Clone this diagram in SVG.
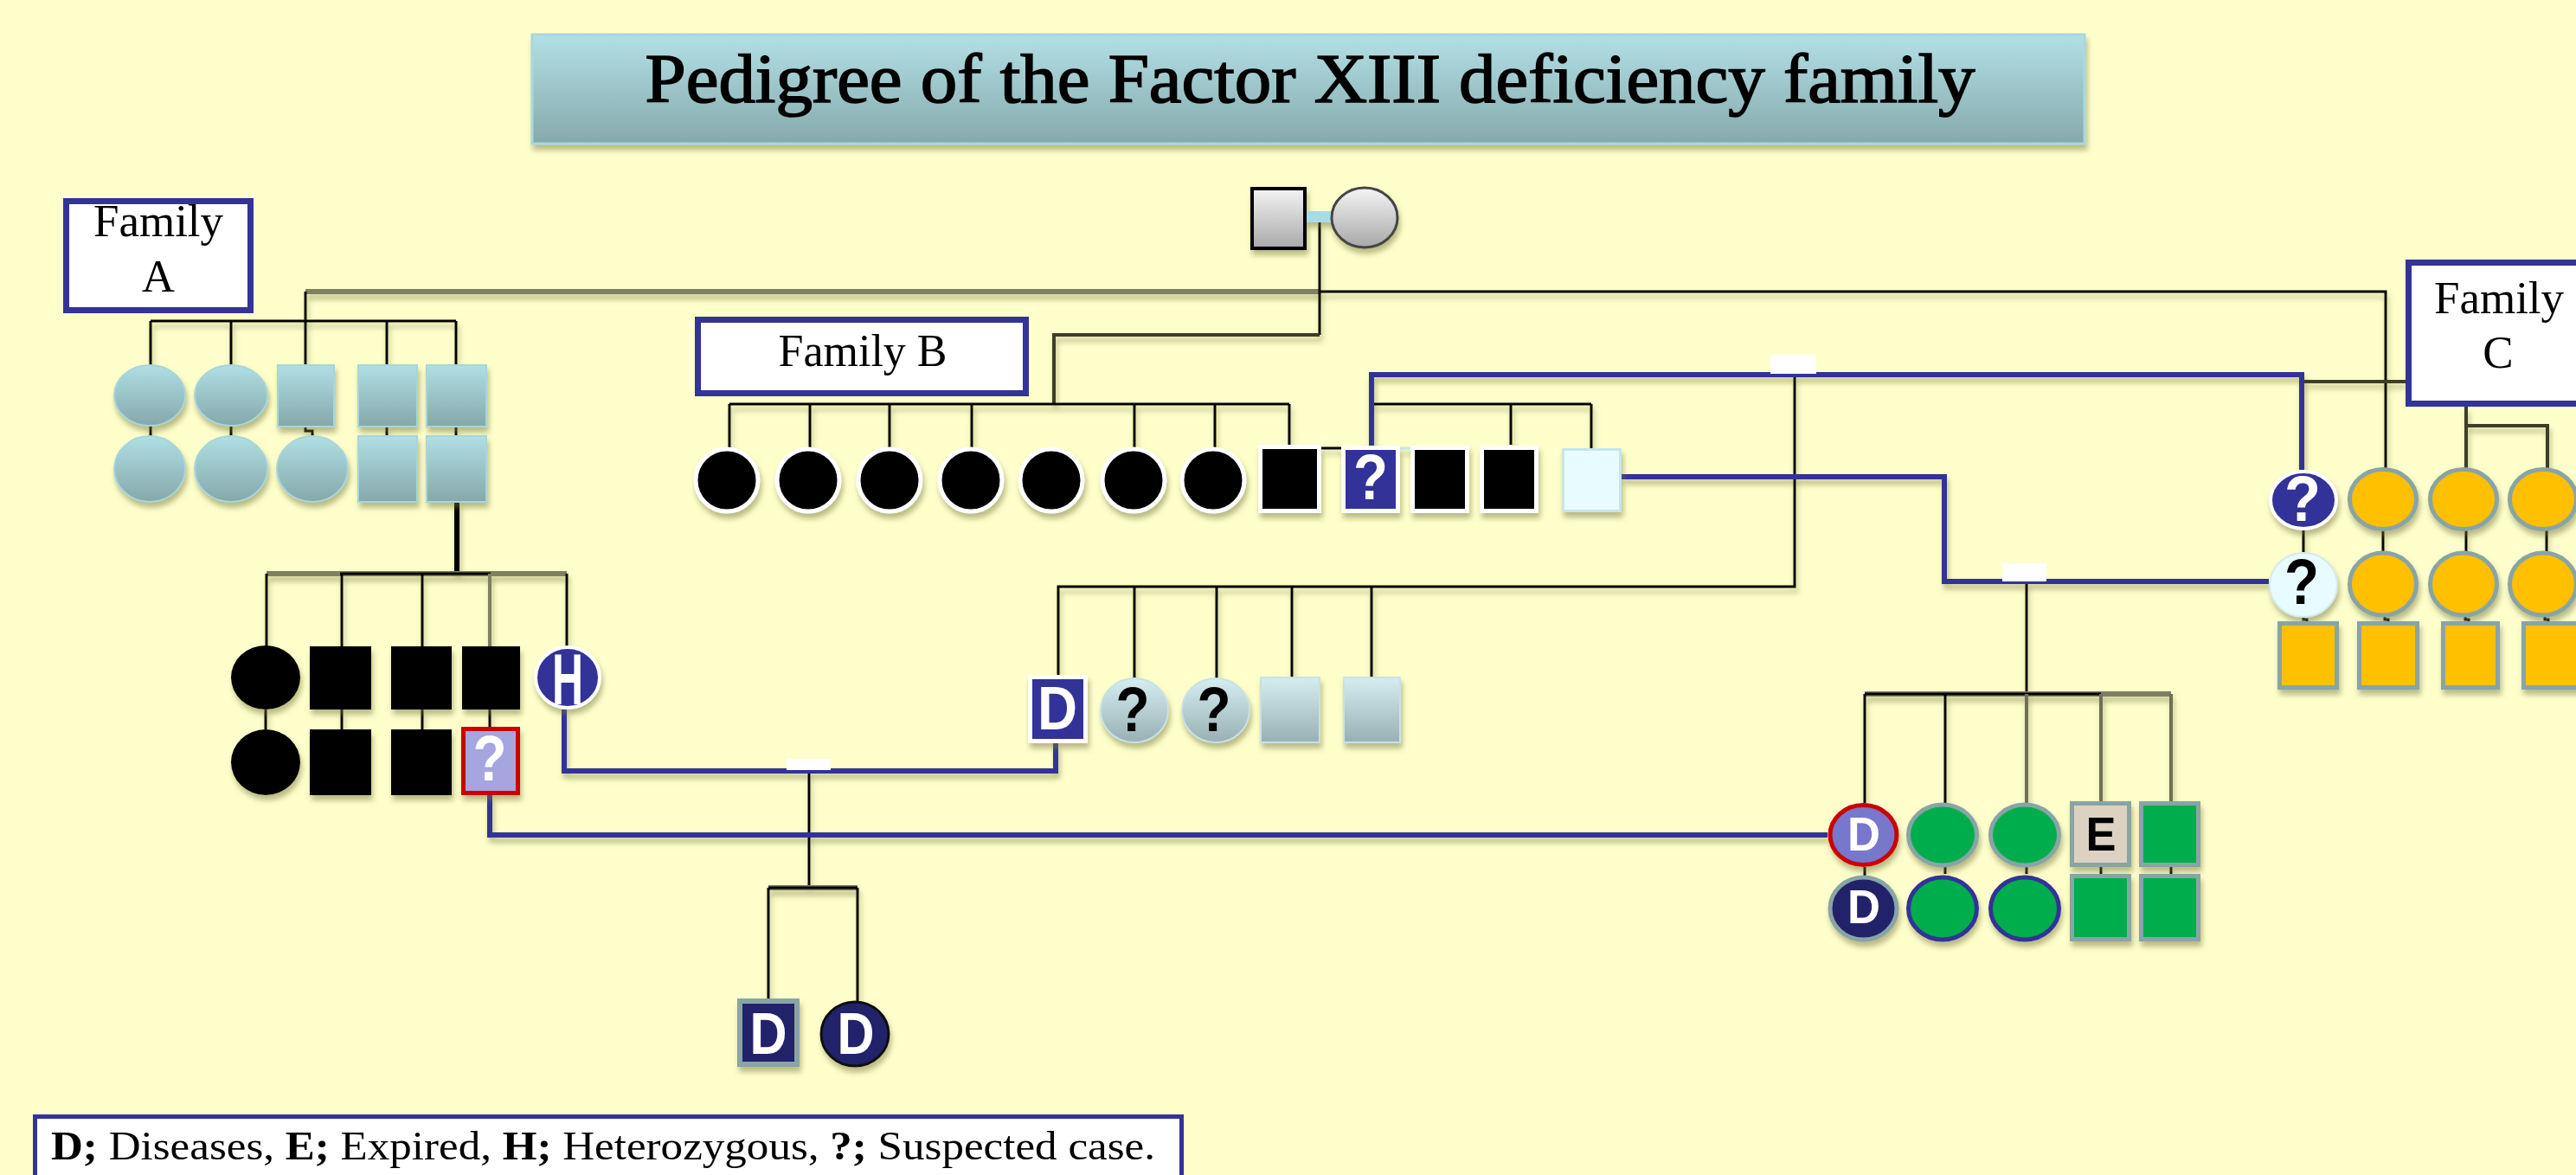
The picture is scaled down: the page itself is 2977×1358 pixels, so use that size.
<svg xmlns="http://www.w3.org/2000/svg" width="2977" height="1358" viewBox="0 0 2977 1358">
<defs>
<filter id="sh" filterUnits="userSpaceOnUse" x="0" y="0" width="2977" height="1358">
<feDropShadow dx="2" dy="6" stdDeviation="3" flood-color="#76763c" flood-opacity="0.5"/>
</filter>
<linearGradient id="gTitle" x1="0" y1="0" x2="0" y2="1"><stop offset="0" stop-color="#b2e0e6"/><stop offset="1" stop-color="#86a9ab"/></linearGradient>
<linearGradient id="gCyan" x1="0" y1="0" x2="0" y2="1"><stop offset="0" stop-color="#b0dfe5"/><stop offset="1" stop-color="#85a8aa"/></linearGradient>
<linearGradient id="gPale" x1="0" y1="0" x2="0" y2="1"><stop offset="0" stop-color="#d6edf1"/><stop offset="1" stop-color="#98b0b3"/></linearGradient>
<linearGradient id="gGray" x1="0" y1="0" x2="0" y2="1"><stop offset="0" stop-color="#f4f4f4"/><stop offset="1" stop-color="#a8a8a8"/></linearGradient>
</defs>
<style>
.ln{stroke:#000;stroke-width:3;fill:none}
.ol{stroke:#7f7f62;stroke-width:6;fill:none}
.dk{stroke:#3c3c2c;stroke-width:4;fill:none}
.bl{stroke:#333399;stroke-width:6;fill:none}
.cy{fill:url(#gCyan);stroke:#a6d6dc;stroke-width:2}
.pale{fill:url(#gPale);stroke:#c8e2e6;stroke-width:2}
.blk{fill:#000}
.bw{fill:#000;stroke:#fff;stroke-width:5}
.gr{fill:#00ad4e;stroke:#88a4a6;stroke-width:5}
.grb{fill:#00ad4e;stroke:#333399;stroke-width:5}
.yl{fill:#ffc000;stroke:#88a4a6;stroke-width:5}
.box{fill:#fff;stroke:#333399;stroke-width:7}
.lbl{font-family:"Liberation Serif","Times New Roman",serif;fill:#000}
.sym{font-family:"Liberation Sans",Arial,sans-serif;font-weight:bold;text-anchor:middle}
.wht{fill:#fff}
</style>
<rect x="0" y="0" width="2977" height="1358" fill="#ffffcc"/>

<g id="title" filter="url(#sh)">
<rect x="615" y="40" width="1794" height="126" fill="url(#gTitle)" stroke="#a8d8de" stroke-width="3"/>
<text class="lbl" x="1514" y="118" font-size="80" text-anchor="middle" stroke="#000" stroke-width="1.6" textLength="1537" lengthAdjust="spacingAndGlyphs">Pedigree of the Factor XIII deficiency family</text>
</g>

<g id="connectors">
<g filter="url(#sh)">
<path class="ol" d="M353 337 H1525"/>
<path class="ln" d="M1525 337 H2757 V542"/>
<path class="ln" d="M1525 257 V387"/>
<path class="dk" d="M1525 387 H1218 V467"/>
<path class="ln" d="M353 337 V422"/>
<path class="ln" d="M174 371 H527 M174 371 V422 M267 371 V422 M447 371 V422 M527 371 V422"/>
<path class="ln" d="M174 492 V504 M267 492 V504 M353 493 V498 H361 V504 M447 493 V504 M527 493 V504"/>
<path d="M528 580 V663" stroke="#000" stroke-width="6" fill="none"/>
<path class="ol" d="M308 663 H655"/>
<path class="ln" d="M393 663 H567"/>
<path class="ln" d="M308 663 V747 M395 663 V747 M488 663 V747 M655 663 V747"/>
<path d="M566 663 V747" stroke="#7f7f62" stroke-width="4" fill="none"/>
<path class="ln" d="M307 820 V843 M395 820 V843 M488 820 V843 M566 820 V840"/>
<path class="ln" d="M843 467 H1490 M843 467 V518 M936 467 V518 M1028 467 V518 M1123 467 V518 M1311 467 V518 M1404 467 V518 M1490 467 V514"/>
<path class="ln" d="M1527 518 H1585"/>
<path d="M1618 518 H1667" stroke="#c8e8f0" stroke-width="3"/>
<path class="ln" d="M1587 467 H1839 M1746 467 V514 M1839 467 V518"/>
<path class="ln" d="M2074 433 V678 H1223 V782 M1311 678 V784 M1406 678 V784 M1493 678 V782 M1585 678 V782"/>
<path class="ln" d="M935 891 V1026"/>
<path class="ol" d="M888 1026 H991"/>
<path class="ln" d="M888 1026 H991 M888 1026 V1157 M991 1026 V1158"/>
<path class="ln" d="M2342 673 V802"/>
<path class="ol" d="M2155 802 H2509"/>
<path class="ln" d="M2155 802 H2428 M2155 802 V928 M2248 802 V928"/>
<path d="M2342 802 V928 M2428 802 V926 M2509 802 V926" stroke="#707058" stroke-width="4" fill="none"/>
<path class="ln" d="M2155 1002 V1012 M2248 1002 V1010 M2342 1002 V1010 M2428 1002 V1010 M2509 1002 V1010"/>
<path class="dk" d="M2660 441 H2780"/>
<path d="M2850 470 V542 M2850 492 H2944 V542" stroke="#3c3c2c" stroke-width="4" fill="none"/>
<path class="ln" d="M2662 613 V638 M2754 613 V638 M2850 613 V638 M2943 613 V638"/>
<path class="ln" d="M2662 713 V716 H2666 V720 M2756 713 V716 H2760 V720 M2849 713 V716 H2853 V720 M2941 713 V716 H2945 V720"/>
<path class="bl" d="M1585 517 V433 H2660 V543"/>
<path class="bl" d="M1874 551 H2247 V672 H2622"/>
<path class="bl" d="M652 820 V891 H1220 V859"/>
<path class="bl" d="M566 919 V965 H2112"/>
</g>
<rect x="2046" y="410" width="53" height="22" fill="#fff"/>
<rect x="2314" y="651" width="51" height="21" fill="#fff"/>
<rect x="909" y="877" width="51" height="13" fill="#fff"/>
</g>

<g id="couple" filter="url(#sh)">
<rect x="1508" y="244" width="30" height="13" fill="#a8dce4"/>
<rect x="1447" y="218" width="61" height="69" fill="url(#gGray)" stroke="#000" stroke-width="4"/>
<ellipse cx="1577" cy="251.5" rx="38" ry="34.5" fill="url(#gGray)" stroke="#444" stroke-width="3"/>
</g>

<g id="familyA-label"><rect class="box" x="76.5" y="232.5" width="213" height="126"/>
<text class="lbl" x="183" y="273" font-size="53" text-anchor="middle">Family</text>
<text class="lbl" x="183" y="337" font-size="53" text-anchor="middle">A</text></g>

<g id="familyA-gen2" filter="url(#sh)">
<ellipse class="cy" cx="173" cy="457" rx="41" ry="35"/>
<ellipse class="cy" cx="267" cy="457" rx="42" ry="35"/>
<rect class="cy" x="321" y="422" width="65" height="71"/>
<rect class="cy" x="414" y="422" width="68" height="71"/>
<rect class="cy" x="493" y="422" width="69" height="71"/>
<ellipse class="cy" cx="173" cy="542" rx="41" ry="38"/>
<ellipse class="cy" cx="267" cy="542" rx="42" ry="38"/>
<ellipse class="cy" cx="361" cy="542" rx="41" ry="38"/>
<rect class="cy" x="414" y="504" width="68" height="76"/>
<rect class="cy" x="493" y="504" width="69" height="76"/>
</g>

<g id="familyA-gen3" filter="url(#sh)">
<ellipse class="blk" cx="307" cy="783" rx="40" ry="37"/>
<rect class="blk" x="358" y="747" width="71" height="73"/>
<rect class="blk" x="452" y="747" width="70" height="73"/>
<rect class="blk" x="534" y="747" width="67" height="73"/>
<ellipse cx="656" cy="783" rx="37" ry="35" fill="#333399" stroke="#fff" stroke-width="4"/>
<text class="sym wht" x="656" y="814" font-size="84" textLength="36" lengthAdjust="spacingAndGlyphs">H</text>
<ellipse class="blk" cx="307" cy="881" rx="40" ry="38"/>
<rect class="blk" x="358" y="843" width="71" height="76"/>
<rect class="blk" x="452" y="843" width="70" height="76"/>
<rect x="535.5" y="842.5" width="63" height="74" fill="#a5a5e0" stroke="#cc0000" stroke-width="5"/>
<text class="sym wht" x="566" y="902" font-size="75" textLength="39" lengthAdjust="spacingAndGlyphs">?</text>
</g>

<g id="familyB-label"><rect class="box" x="806.5" y="369.5" width="379" height="85"/>
<text class="lbl" x="997" y="423" font-size="52" text-anchor="middle">Family B</text></g>

<g id="familyB-gen2" filter="url(#sh)">
<ellipse class="bw" cx="840" cy="555" rx="36" ry="36"/>
<ellipse class="bw" cx="934" cy="555" rx="36" ry="36"/>
<ellipse class="bw" cx="1028" cy="555" rx="36" ry="36"/>
<ellipse class="bw" cx="1122" cy="555" rx="36" ry="36"/>
<ellipse class="bw" cx="1215" cy="555" rx="36" ry="36"/>
<ellipse class="bw" cx="1310" cy="555" rx="36" ry="36"/>
<ellipse class="bw" cx="1402" cy="555" rx="36" ry="36"/>
<rect class="bw" x="1456.5" y="516.5" width="68" height="74"/>
<rect x="1552.5" y="517.5" width="63" height="73" fill="#333399" stroke="#fff" stroke-width="5"/>
<text class="sym wht" x="1584" y="577" font-size="74" textLength="40" lengthAdjust="spacingAndGlyphs">?</text>
<rect class="bw" x="1632.5" y="517.5" width="63" height="73"/>
<rect class="bw" x="1712.5" y="517.5" width="63" height="73"/>
<rect x="1806.5" y="519.5" width="66" height="71" fill="#e8fcff" stroke="#c6e6ec" stroke-width="3"/>
</g>

<g id="familyB-gen3" filter="url(#sh)">
<rect x="1190.5" y="782.5" width="64" height="74" fill="#333399" stroke="#fff" stroke-width="5"/>
<text class="sym wht" x="1222" y="843" font-size="70" textLength="46" lengthAdjust="spacingAndGlyphs">D</text>
<ellipse class="pale" cx="1311" cy="821" rx="39" ry="37"/>
<text class="sym" x="1309" y="845" font-size="72" textLength="39" lengthAdjust="spacingAndGlyphs">?</text>
<ellipse class="pale" cx="1405" cy="821" rx="39" ry="37"/>
<text class="sym" x="1403" y="845" font-size="72" textLength="39" lengthAdjust="spacingAndGlyphs">?</text>
<rect class="pale" x="1457" y="783" width="68" height="75"/>
<rect class="pale" x="1553" y="783" width="65" height="75"/>
</g>

<g id="bottom-children" filter="url(#sh)">
<rect x="855" y="1157" width="66" height="73" fill="#22226a" stroke="#88a4a6" stroke-width="6"/>
<text class="sym wht" x="888" y="1218" font-size="68" textLength="43" lengthAdjust="spacingAndGlyphs">D</text>
<ellipse cx="988" cy="1195" rx="39" ry="37" fill="#22226a" stroke="#111" stroke-width="3"/>
<text class="sym wht" x="989" y="1218" font-size="68" textLength="43" lengthAdjust="spacingAndGlyphs">D</text>
</g>

<g id="green-family" filter="url(#sh)">
<ellipse cx="2153.5" cy="965" rx="38.5" ry="34.5" fill="#7777cc" stroke="#cc0000" stroke-width="5"/>
<text class="sym wht" x="2154" y="983" font-size="56" textLength="38" lengthAdjust="spacingAndGlyphs">D</text>
<ellipse class="gr" cx="2245" cy="965" rx="39.5" ry="35"/>
<ellipse class="gr" cx="2340" cy="965" rx="39.5" ry="35"/>
<rect x="2394.5" y="928.5" width="66" height="71" fill="#ddd2c2" stroke="#88a4a6" stroke-width="5"/>
<text class="sym" x="2428" y="983" font-size="56" textLength="35" lengthAdjust="spacingAndGlyphs">E</text>
<rect class="gr" x="2474.5" y="928.5" width="66" height="71"/>
<ellipse cx="2153.5" cy="1050" rx="38.5" ry="36" fill="#22226a" stroke="#88a4a6" stroke-width="5"/>
<text class="sym wht" x="2154" y="1067" font-size="56" textLength="38" lengthAdjust="spacingAndGlyphs">D</text>
<ellipse class="grb" cx="2245" cy="1050" rx="39.5" ry="36"/>
<ellipse class="grb" cx="2340" cy="1050" rx="39.5" ry="36"/>
<rect class="gr" x="2394.5" y="1012.5" width="66" height="73"/>
<rect class="gr" x="2474.5" y="1012.5" width="66" height="73"/>
</g>

<g id="familyC-label"><rect class="box" x="2783.5" y="303.5" width="300" height="163"/>
<text class="lbl" x="2888" y="362" font-size="53" text-anchor="middle">Family</text>
<text class="lbl" x="2887" y="425" font-size="53" text-anchor="middle">C</text></g>

<g id="familyC" filter="url(#sh)">
<ellipse cx="2662" cy="578" rx="38" ry="33" fill="#333399" stroke="#fff" stroke-width="4"/>
<text class="sym wht" x="2661" y="602" font-size="74" textLength="42" lengthAdjust="spacingAndGlyphs">?</text>
<ellipse class="yl" cx="2754" cy="577" rx="38.5" ry="34.5"/>
<ellipse class="yl" cx="2847" cy="577" rx="38.5" ry="34.5"/>
<ellipse class="yl" cx="2939" cy="577" rx="38.5" ry="34.5"/>
<ellipse cx="2662" cy="676" rx="39" ry="37" fill="#e8fcff" stroke="#d4eaee" stroke-width="2"/>
<text class="sym" x="2660" y="698" font-size="74" textLength="40" lengthAdjust="spacingAndGlyphs">?</text>
<ellipse class="yl" cx="2754" cy="675" rx="38.5" ry="36"/>
<ellipse class="yl" cx="2847" cy="675" rx="38.5" ry="36"/>
<ellipse class="yl" cx="2939" cy="675" rx="38.5" ry="36"/>
<rect class="yl" x="2634.5" y="720.5" width="66" height="74"/>
<rect class="yl" x="2726.5" y="720.5" width="67" height="74"/>
<rect class="yl" x="2823.5" y="720.5" width="63" height="74"/>
<rect class="yl" x="2916.5" y="720.5" width="70" height="74"/>
</g>

<g id="legend">
<rect x="40.5" y="1290.5" width="1325" height="100" fill="#fff" stroke="#333399" stroke-width="5"/>
<text class="lbl" x="59" y="1340" font-size="46" textLength="1276" lengthAdjust="spacingAndGlyphs"><tspan font-weight="bold">D;</tspan> Diseases, <tspan font-weight="bold">E;</tspan> Expired, <tspan font-weight="bold">H;</tspan> Heterozygous, <tspan font-weight="bold">?;</tspan> Suspected case.</text>
</g>
</svg>
